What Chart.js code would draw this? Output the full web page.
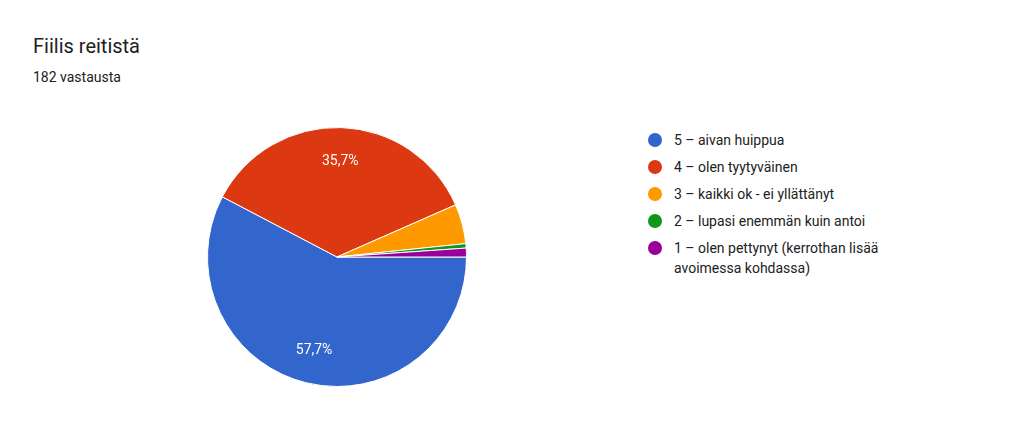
<!DOCTYPE html>
<html><head><meta charset="utf-8">
<script src="https://cdn.jsdelivr.net/npm/chart.js@4"></script>
<style>
body{margin:0;width:1024px;height:430px;background:#fff;font-family:Roboto,Arial,sans-serif;position:relative;overflow:hidden}
#t{position:absolute;left:33px;top:34px;font-size:20px;color:#202124}
#s{position:absolute;left:33px;top:69px;font-size:14px;color:#202124}
#wrap{position:absolute;left:207px;top:127px;width:260px;height:260px}
#leg{position:absolute;left:648px;top:130px;font-size:14px;color:#222;line-height:20px}
.it{position:relative;padding-left:26px;margin-bottom:7px;width:240px}
.dot{position:absolute;left:0;top:3px;width:14px;height:14px;border-radius:50%}
</style></head><body>
<div id="t">Fiilis reitistä</div>
<div id="s">182 vastausta</div>
<div id="wrap"><canvas id="c"></canvas></div>
<div id="leg"></div>
<script>
const labels = ['5 – aivan huippua','4 – olen tyytyväinen','3 – kaikki ok - ei yllättänyt','2 – lupasi enemmän kuin antoi','1 – olen pettynyt (kerrothan lisää avoimessa kohdassa)'];
const counts = [105, 65, 9, 1, 2];
const colors = ['#3366cc','#dc3912','#ff9900','#109618','#990099'];

const leg = document.getElementById('leg');
labels.forEach((l,i)=>{
  const d=document.createElement('div');d.className='it';
  d.innerHTML='<span class="dot" style="background:'+colors[i]+'"></span>'+l;
  leg.appendChild(d);
});

const total = counts.reduce((a,b)=>a+b,0);
const pctLabels = {
  id:'pct',
  afterDatasetsDraw(chart){
    const ctx=chart.ctx;
    chart.getDatasetMeta(0).data.forEach((arc,i)=>{
      const p=counts[i]/total;
      if(p<0.1) return;
      const a=(arc.startAngle+arc.endAngle)/2, r=arc.outerRadius*0.74;
      ctx.save();ctx.fillStyle='#fff';ctx.font='14px Roboto, Arial';
      ctx.textAlign='center';ctx.textBaseline='middle';
      ctx.fillText((p*100).toFixed(1).replace('.',',')+'%',arc.x+Math.cos(a)*r,arc.y+Math.sin(a)*r);
      ctx.restore();
    });
  }
};
new Chart(document.getElementById('c'),{
  type:'pie',
  data:{labels:labels,datasets:[{data:counts,backgroundColor:colors,borderColor:'#fff',borderWidth:1}]},
  options:{responsive:true,maintainAspectRatio:false,animation:false,rotation:90,
    plugins:{legend:{display:false},tooltip:{enabled:false}}},
  plugins:[pctLabels]
});
</script></body></html>
